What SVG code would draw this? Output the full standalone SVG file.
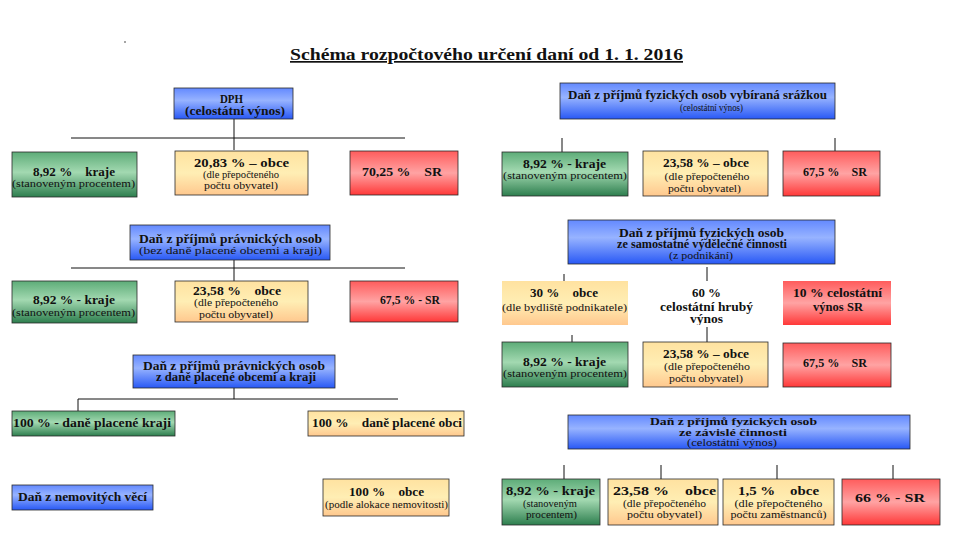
<svg xmlns="http://www.w3.org/2000/svg" width="960" height="540" viewBox="0 0 960 540" font-family="'Liberation Serif', 'DejaVu Serif', serif">
<style>
text{font-family:"Liberation Serif","DejaVu Serif",serif;fill:#111;text-anchor:middle;white-space:pre}
.b{font-weight:bold;font-size:11.5px}
.n{font-size:11px}
.s{font-size:10.5px}
.box{stroke:#2a2a2a;stroke-width:0.8}
.blue{fill:url(#gBlue)}
.green{fill:url(#gGreen)}
.yellow{fill:url(#gYellow)}
.red{fill:url(#gRed)}
.con line{stroke:#111;stroke-width:1}
</style>
<defs>
<linearGradient id="gBlue" x1="0" y1="0" x2="0" y2="1">
<stop offset="0" stop-color="#6389ff"/><stop offset="0.4" stop-color="#97b3ff"/><stop offset="1" stop-color="#2858f5"/>
</linearGradient>
<linearGradient id="gGreen" x1="0" y1="0" x2="0" y2="1">
<stop offset="0" stop-color="#5dac78"/><stop offset="0.45" stop-color="#a3d9b1"/><stop offset="1" stop-color="#2d7e4e"/>
</linearGradient>
<linearGradient id="gYellow" x1="0" y1="0" x2="0" y2="1">
<stop offset="0" stop-color="#ffe2a0"/><stop offset="0.5" stop-color="#ffeeb4"/><stop offset="1" stop-color="#ffc88e"/>
</linearGradient>
<linearGradient id="gRed" x1="0" y1="0" x2="0" y2="1">
<stop offset="0" stop-color="#ff5c5c"/><stop offset="0.5" stop-color="#ffa3a3"/><stop offset="1" stop-color="#ff3838"/>
</linearGradient>
<clipPath id="clip60"><rect x="643" y="281" width="125" height="44"/></clipPath>
</defs>
<rect width="960" height="540" fill="#fff"/>
<circle cx="125" cy="42" r="0.8" fill="#333"/>
<text x="290" y="60" style="text-anchor:start;font-weight:bold;font-size:17px;text-decoration:underline" textLength="393" lengthAdjust="spacingAndGlyphs">Schéma rozpočtového určení daní od 1. 1. 2016</text>

<g class="con">
<line x1="234" y1="119" x2="234" y2="150"/>
<line x1="71" y1="138" x2="405" y2="138"/>
<line x1="562" y1="138" x2="562" y2="152"/>
<line x1="835" y1="138" x2="835" y2="152"/>
<line x1="234" y1="260" x2="234" y2="281"/>
<line x1="71" y1="268" x2="405" y2="268"/>
<line x1="564" y1="274" x2="564" y2="281"/>
<line x1="707" y1="267" x2="707" y2="281"/>
<line x1="572" y1="335" x2="572" y2="342"/>
<line x1="707" y1="327" x2="707" y2="342"/>
<line x1="234" y1="388" x2="234" y2="399"/>
<line x1="78" y1="399" x2="398" y2="399"/>
<line x1="78" y1="399" x2="78" y2="411"/>
<line x1="564" y1="465" x2="564" y2="479"/>
<line x1="661" y1="465" x2="661" y2="479"/>
<line x1="777" y1="465" x2="777" y2="479"/>
<line x1="893" y1="465" x2="893" y2="479"/>
</g>

<g id="dph">
<rect class="box blue" x="174" y="88" width="119" height="31"/>
<text class="b" x="231.5" y="103" textLength="23" lengthAdjust="spacingAndGlyphs">DPH</text>
<text class="b" x="235" y="115" textLength="100" lengthAdjust="spacingAndGlyphs">(celostátní výnos)</text>
</g>
<g id="dph-kraje">
<rect class="box green" x="12" y="152" width="125" height="45"/>
<text class="b" x="74" y="176" textLength="82" lengthAdjust="spacingAndGlyphs">8,92 %    kraje</text>
<text class="n" x="73.5" y="187" textLength="123" lengthAdjust="spacingAndGlyphs">(stanoveným procentem)</text>
</g>
<g id="dph-obce">
<rect class="box yellow" x="175" y="151" width="133" height="44"/>
<text class="b" x="241.5" y="167" textLength="95" lengthAdjust="spacingAndGlyphs">20,83 % – obce</text>
<text class="n" x="241" y="178" textLength="76" lengthAdjust="spacingAndGlyphs">(dle přepočteného</text>
<text class="n" x="241" y="189" textLength="74" lengthAdjust="spacingAndGlyphs">počtu obyvatel)</text>
</g>
<g id="dph-sr">
<rect class="box red" x="350" y="151" width="108" height="44"/>
<text class="b" x="402" y="176" textLength="80" lengthAdjust="spacingAndGlyphs">70,25 %    SR</text>
</g>

<g id="dfo-srazka">
<rect class="box blue" x="560" y="83" width="275" height="36"/>
<text class="b" x="697.5" y="99" textLength="259" lengthAdjust="spacingAndGlyphs">Daň z příjmů fyzických osob vybíraná srážkou</text>
<text class="n" x="711.5" y="111" textLength="63" lengthAdjust="spacingAndGlyphs">(celostátní výnos)</text>
</g>
<g id="srazka-kraje">
<rect class="box green" x="502" y="152" width="126" height="44"/>
<text class="b" x="564.5" y="168" textLength="83" lengthAdjust="spacingAndGlyphs">8,92 % - kraje</text>
<text class="n" x="565" y="179" textLength="124" lengthAdjust="spacingAndGlyphs">(stanoveným procentem)</text>
</g>
<g id="srazka-obce">
<rect class="box yellow" x="643" y="151" width="125" height="45"/>
<text class="b" x="706" y="167" textLength="86" lengthAdjust="spacingAndGlyphs">23,58 % – obce</text>
<text class="n" x="707" y="180" textLength="85" lengthAdjust="spacingAndGlyphs">(dle přepočteného</text>
<text class="n" x="704.5" y="192" textLength="73" lengthAdjust="spacingAndGlyphs">počtu obyvatel)</text>
</g>
<g id="srazka-sr">
<rect class="box red" x="783" y="151" width="97" height="45"/>
<text class="b" x="835" y="176" textLength="64" lengthAdjust="spacingAndGlyphs">67,5 %    SR</text>
</g>

<g id="dppo">
<rect class="box blue" x="130" y="225" width="200" height="35"/>
<text class="b" x="230.5" y="243" textLength="183" lengthAdjust="spacingAndGlyphs">Daň z příjmů právnických osob</text>
<text class="n" x="230.5" y="254" textLength="183" lengthAdjust="spacingAndGlyphs">(bez daně placené obcemi a kraji)</text>
</g>
<g id="dppo-kraje">
<rect class="box green" x="12" y="281" width="125" height="42"/>
<text class="b" x="74" y="304" textLength="82" lengthAdjust="spacingAndGlyphs">8,92 % - kraje</text>
<text class="n" x="73.5" y="316" textLength="123" lengthAdjust="spacingAndGlyphs">(stanoveným procentem)</text>
</g>
<g id="dppo-obce">
<rect class="box yellow" x="175" y="281" width="133" height="41"/>
<text class="b" x="237" y="295" textLength="88" lengthAdjust="spacingAndGlyphs">23,58 %    obce</text>
<text class="n" x="236" y="306" textLength="84" lengthAdjust="spacingAndGlyphs">(dle přepočteného</text>
<text class="n" x="236" y="318" textLength="74" lengthAdjust="spacingAndGlyphs">počtu obyvatel)</text>
</g>
<g id="dppo-sr">
<rect class="box red" x="350" y="281" width="108" height="41"/>
<text class="b" x="410" y="304" textLength="60" lengthAdjust="spacingAndGlyphs">67,5 % - SR</text>
</g>

<g id="dfo-svc">
<rect class="box blue" x="568" y="220" width="267" height="44"/>
<text class="b" x="701.5" y="237" textLength="165" lengthAdjust="spacingAndGlyphs">Daň z příjmů fyzických osob</text>
<text class="b" x="702" y="248" textLength="170" lengthAdjust="spacingAndGlyphs">ze samostatné výdělečné činnosti</text>
<text class="n" x="701" y="259" textLength="64" lengthAdjust="spacingAndGlyphs">(z podnikání)</text>
</g>
<g id="svc-obce">
<rect class="yellow" x="502" y="281" width="126" height="44"/>
<text class="b" x="564" y="297" textLength="68" lengthAdjust="spacingAndGlyphs">30 %    obce</text>
<text class="n" x="564.5" y="311" textLength="125" lengthAdjust="spacingAndGlyphs">(dle bydliště podnikatele)</text>
</g>
<g id="svc-60" clip-path="url(#clip60)">
<rect x="643" y="281" width="125" height="44" fill="#fff"/>
<text class="b" x="706.5" y="297" textLength="29" lengthAdjust="spacingAndGlyphs">60 %</text>
<text class="b" x="706.5" y="311" textLength="93" lengthAdjust="spacingAndGlyphs">celostátní hrubý</text>
<text class="b" x="706.5" y="323" textLength="33" lengthAdjust="spacingAndGlyphs">výnos</text>
</g>
<g id="svc-sr">
<rect class="red" x="783" y="281" width="108" height="44"/>
<text class="b" x="837.5" y="297" textLength="89" lengthAdjust="spacingAndGlyphs">10 % celostátní</text>
<text class="b" x="838" y="311" textLength="50" lengthAdjust="spacingAndGlyphs">výnos SR</text>
</g>
<g id="svc-kraje">
<rect class="box green" x="502" y="342" width="126" height="45"/>
<text class="b" x="564.5" y="366" textLength="83" lengthAdjust="spacingAndGlyphs">8,92 % - kraje</text>
<text class="n" x="565" y="377" textLength="124" lengthAdjust="spacingAndGlyphs">(stanoveným procentem)</text>
</g>
<g id="svc-obce2">
<rect class="box yellow" x="643" y="342" width="125" height="45"/>
<text class="b" x="706" y="358" textLength="86" lengthAdjust="spacingAndGlyphs">23,58 % – obce</text>
<text class="n" x="707" y="370" textLength="86" lengthAdjust="spacingAndGlyphs">(dle přepočteného</text>
<text class="n" x="706" y="382" textLength="74" lengthAdjust="spacingAndGlyphs">počtu obyvatel)</text>
</g>
<g id="svc-sr2">
<rect class="box red" x="783" y="343" width="108" height="44"/>
<text class="b" x="835" y="367" textLength="64" lengthAdjust="spacingAndGlyphs">67,5 %    SR</text>
</g>

<g id="dppo-uzemni">
<rect class="box blue" x="133" y="355" width="202" height="33"/>
<text class="b" x="234" y="370" textLength="182" lengthAdjust="spacingAndGlyphs">Daň z příjmů právnických osob</text>
<text class="b" x="236" y="381" textLength="160" lengthAdjust="spacingAndGlyphs">z daně placené obcemi a kraji</text>
</g>
<g id="uzemni-kraje">
<rect class="box green" x="12" y="411" width="163" height="25"/>
<text class="b" x="92" y="427" textLength="158" lengthAdjust="spacingAndGlyphs">100 % - daně placené kraji</text>
</g>
<g id="uzemni-obce">
<rect class="box yellow" x="308" y="411" width="156" height="25"/>
<text class="b" x="387" y="427" textLength="150" lengthAdjust="spacingAndGlyphs">100 %    daně placené obci</text>
</g>

<g id="dnv">
<rect class="box blue" x="12" y="485" width="141" height="25"/>
<text class="b" x="82.5" y="501" textLength="129" lengthAdjust="spacingAndGlyphs">Daň z nemovitých věcí</text>
</g>
<g id="dnv-obce">
<rect class="box yellow" x="323" y="479" width="126" height="37"/>
<text class="b" x="386.5" y="496" textLength="75" lengthAdjust="spacingAndGlyphs">100 %    obce</text>
<text class="n" x="386.5" y="508" textLength="123" lengthAdjust="spacingAndGlyphs">(podle alokace nemovitosti)</text>
</g>

<g id="dfo-zc">
<rect class="box blue" x="568" y="415" width="342" height="34"/>
<text class="b s" x="733.5" y="425" textLength="167" lengthAdjust="spacingAndGlyphs">Daň z příjmů fyzických osob</text>
<text class="b s" x="733" y="436" textLength="108" lengthAdjust="spacingAndGlyphs">ze závislé činnosti</text>
<text class="n s" x="732" y="446" textLength="90" lengthAdjust="spacingAndGlyphs">(celostátní výnos)</text>
</g>
<g id="zc-kraje">
<rect class="box green" x="502" y="479" width="98" height="46"/>
<text class="b" x="550.5" y="495" textLength="89" lengthAdjust="spacingAndGlyphs">8,92 % - kraje</text>
<text class="n" x="550" y="507" textLength="54" lengthAdjust="spacingAndGlyphs">(stanoveným</text>
<text class="n" x="551.5" y="518" textLength="51" lengthAdjust="spacingAndGlyphs">procentem)</text>
</g>
<g id="zc-obce">
<rect class="box yellow" x="608" y="479" width="110" height="46"/>
<text class="b" x="664.5" y="495" textLength="103" lengthAdjust="spacingAndGlyphs">23,58 %    obce</text>
<text class="n" x="664.5" y="507" textLength="83" lengthAdjust="spacingAndGlyphs">(dle přepočteného</text>
<text class="n" x="664.5" y="518" textLength="75" lengthAdjust="spacingAndGlyphs">počtu obyvatel)</text>
</g>
<g id="zc-obce-zam">
<rect class="box yellow" x="723" y="479" width="111" height="46"/>
<text class="b" x="778.5" y="495" textLength="81" lengthAdjust="spacingAndGlyphs">1,5 %    obce</text>
<text class="n" x="778.5" y="507" textLength="88" lengthAdjust="spacingAndGlyphs">(dle přepočteného</text>
<text class="n" x="778.5" y="518" textLength="96" lengthAdjust="spacingAndGlyphs">počtu zaměstnanců)</text>
</g>
<g id="zc-sr">
<rect class="box red" x="842" y="479" width="98" height="46"/>
<text class="b" x="890" y="502" textLength="70" lengthAdjust="spacingAndGlyphs">66 % - SR</text>
</g>
</svg>
